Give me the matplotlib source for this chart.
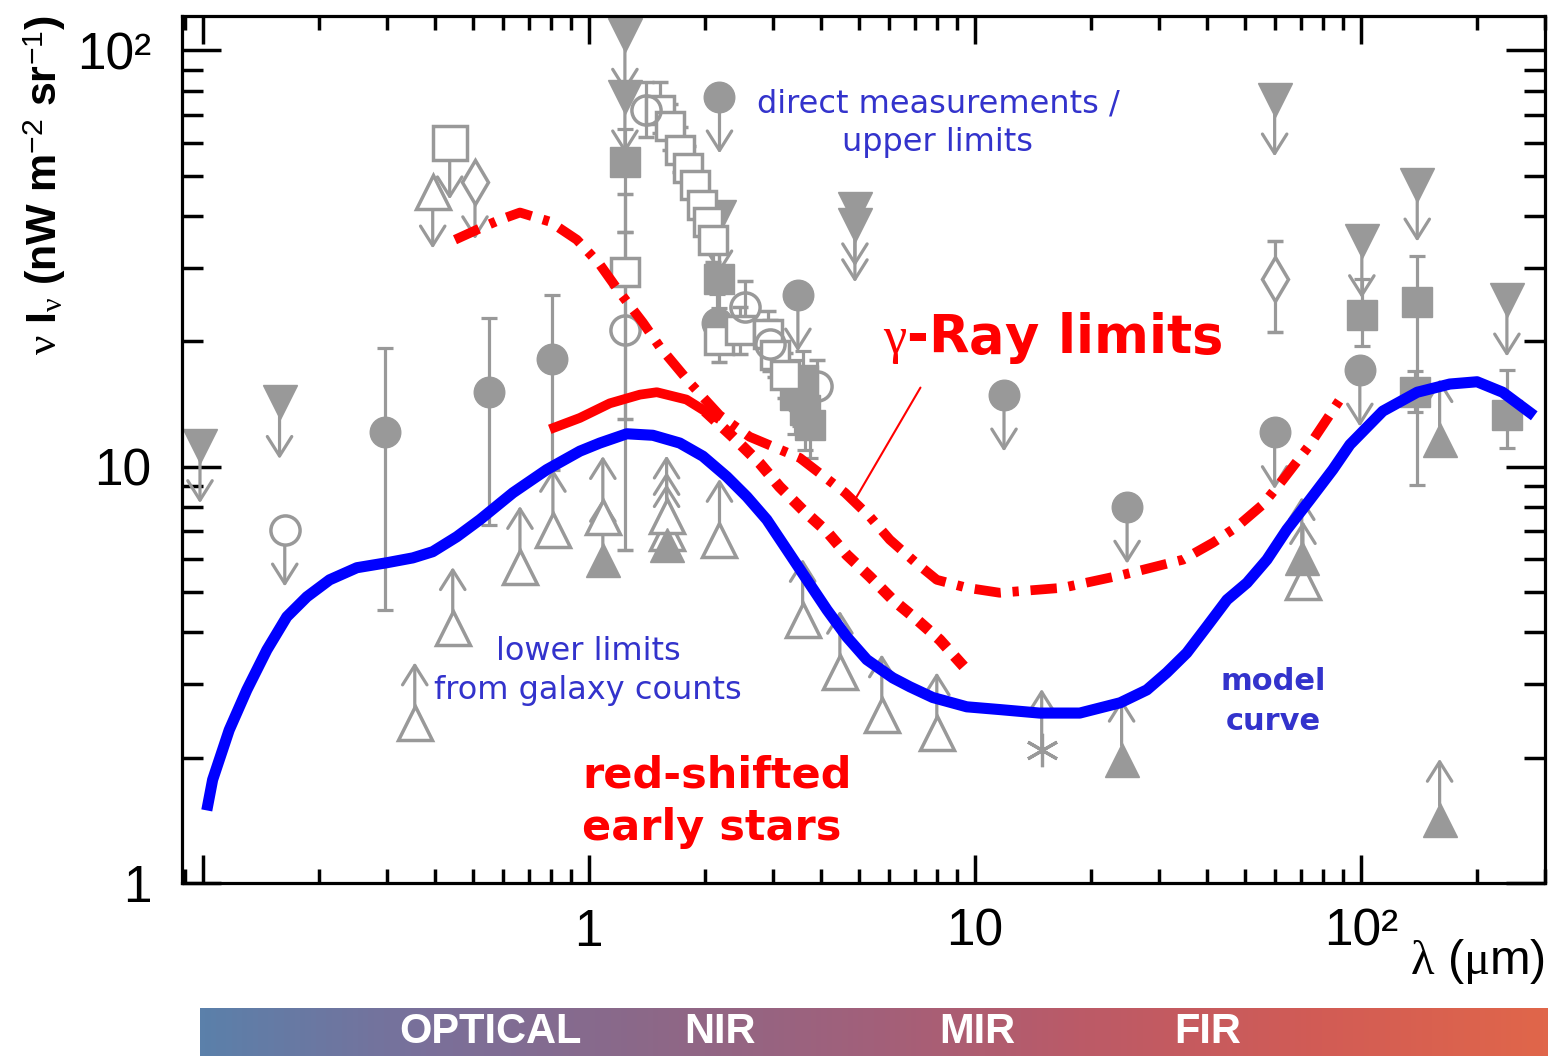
import numpy as np
import matplotlib.pyplot as plt
from matplotlib.colors import LinearSegmentedColormap

plt.rcParams['lines.scale_dashes'] = False
plt.rcParams['mathtext.fontset'] = 'custom'
plt.rcParams['mathtext.it'] = 'Liberation Serif'
plt.rcParams['mathtext.rm'] = 'Liberation Sans'
plt.rcParams['mathtext.default'] = 'it'

# ---- curves ----
model_lam = [0.103, 0.106, 0.117, 0.130, 0.1465, 0.165, 0.186, 0.213, 0.2506, 0.2997,
             0.350, 0.394, 0.455, 0.522, 0.636, 0.778, 0.948, 1.068, 1.254, 1.465,
             1.72, 1.974, 2.278, 2.567, 2.891, 3.258, 3.672, 4.14, 4.66, 5.25,
             6.13, 6.79, 7.78, 9.53, 11.6, 14.7, 18.7, 23.8, 27.9, 31.4,
             35.4, 39.9, 45.0, 50.7, 57.1, 64.3, 73.8, 84.6, 93.7, 114,
             140, 170, 200, 233, 274]
model_val = [1.54, 1.77, 2.33, 2.91, 3.63, 4.36, 4.87, 5.35, 5.72, 5.88,
             6.04, 6.25, 6.79, 7.46, 8.66, 9.84, 10.9, 11.4, 12.0, 11.9,
             11.4, 10.6, 9.46, 8.47, 7.46, 6.32, 5.35, 4.53, 3.90, 3.44,
             3.11, 2.96, 2.79, 2.65, 2.61, 2.56, 2.56, 2.71, 2.91, 3.20,
             3.57, 4.13, 4.79, 5.26, 5.98, 7.06, 8.33, 9.84, 11.3, 13.6,
             15.1, 15.8, 16.0, 15.1, 13.5]

stars_lam = [0.792, 0.948, 1.133, 1.356, 1.50, 1.79, 2.00, 2.18]
stars_val = [12.3, 13.1, 14.2, 14.9, 15.1, 14.5, 13.6, 13.0]

stars_dash_lam = [2.00, 2.36, 2.77, 3.12, 3.58, 4.14, 4.66, 5.35, 6.13, 7.08, 8.11, 9.42]
stars_dash_val = [13.6, 11.8, 10.2, 8.95, 7.88, 6.98, 6.14, 5.44, 4.79, 4.29, 3.84, 3.29]

gamma_lam = [0.450, 0.513, 0.588, 0.663, 0.792, 0.931, 1.068, 1.203, 1.380, 1.527,
             1.827, 2.18, 2.61, 3.52, 4.61, 5.35, 6.02, 6.99, 7.97, 9.53,
             11.6, 16.9, 24.2, 34.6, 41.4, 47.7, 55.7, 62.8, 73.8, 88.3]
gamma_val = [35.1, 37.1, 39.2, 40.8, 38.8, 35.1, 30.6, 26.2, 22.2, 19.4,
             15.9, 13.3, 11.8, 10.5, 8.66, 7.58, 6.68, 5.91, 5.35, 5.12,
             4.98, 5.12, 5.50, 5.98, 6.57, 7.17, 8.11, 9.30, 11.3, 14.5]

# ---- measurements with error bars ----
fcirc_lam = [0.296, 0.551, 0.802, 2.15, 3.52]
fcirc_val = [12.1, 15.1, 18.1, 22.2, 14.5]
fcirc_lo = [4.53, 7.25, 9.84, 19.0, 12.5]
fcirc_hi = [19.3, 22.8, 25.8, 26.0, 16.5]

fsq_lam = [1.24, 2.18, 3.42, 3.58, 3.63, 3.74, 100.6, 140, 138, 239]
fsq_val = [54.1, 28.2, 14.9, 16.2, 13.7, 12.6, 23.2, 24.9, 15.1, 13.3]
fsq_lo = [36.7, 24.0, 12.0, 13.5, 11.0, 10.5, 19.5, 9.05, 13.5, 11.1]
fsq_hi = [64.6, 33.0, 18.0, 19.0, 16.5, 15.0, 28.2, 32.0, 17.0, 17.1]

osq_lam = [1.24, 1.527, 1.62, 1.72, 1.81, 1.88, 1.96, 2.03, 2.10, 2.18, 2.46, 2.91, 3.03, 3.22]
osq_val = [29.3, 72.1, 65.7, 57.8, 52.3, 47.6, 42.6, 38.8, 35.1, 20.2, 21.3, 20.8, 18.6, 16.6]
osq_lo = [13.0, 63.5, 57.8, 51.0, 46.0, 42.0, 37.5, 34.0, 31.0, 17.8, 18.7, 18.3, 16.4, 14.6]
osq_hi = [45.1, 84.0, 74.5, 65.5, 59.0, 54.0, 48.0, 44.0, 39.8, 23.0, 24.2, 23.6, 21.1, 18.8]

ocirc_lam = [1.24, 1.41, 2.54, 2.94, 3.90]
ocirc_val = [21.3, 72.1, 24.2, 19.7, 15.6]
ocirc_lo = [6.32, 62.0, 21.0, 17.0, 13.5]
ocirc_hi = [36.7, 84.0, 28.0, 22.5, 18.0]

odiam_lam = [59.8]
odiam_val = [28.2]
odiam_lo = [21.1]
odiam_hi = [34.8]

# ---- upper limits ----
ul_tri_lam = [0.0983, 0.158, 1.24, 1.24, 2.18, 4.89, 4.89, 59.8, 100.6, 140, 239]
ul_tri_val = [11.2, 14.3, 109, 77.5, 39.9, 41.5, 38.0, 76.2, 34.8, 47.6, 25.2]
ul_circ_lam = [2.18, 3.48, 11.9, 24.8, 59.8, 99.4]
ul_circ_val = [77.5, 25.9, 14.9, 8.01, 12.1, 17.1]
ul_ocirc_lam, ul_ocirc_val = [0.163], [7.06]
ul_osq_lam, ul_osq_val = [0.436], [60.1]
ul_odiam_lam, ul_odiam_val = [0.507], [48.2]
ul_otri_lam, ul_otri_val = [0.394], [45.8]

# ---- lower limits ----
ll_otri_lam = [0.354, 0.444, 0.663, 0.807, 1.087, 1.59, 1.59, 2.18, 3.58, 4.47, 5.74, 7.97, 70.8]
ll_otri_val = [2.42, 4.10, 5.75, 7.06, 7.58, 6.94, 7.60, 6.68, 4.29, 3.22, 2.53, 2.29, 5.29]
ll_ftri_lam = [1.087, 1.59, 24.0, 70.3, 160, 160]
ll_ftri_val = [5.98, 6.49, 1.98, 6.04, 11.6, 1.42]
ll_star_lam, ll_star_val = [14.9], [2.09]

W, H = 1551, 1056
GRAY = '#999999'
BLUE_TXT = '#3333cc'

def fx(px):
    return px / W

def fy(py):
    return 1 - py / H

fig = plt.figure(figsize=(W / 100, H / 100), dpi=100)
ax = fig.add_axes([fx(182), fy(883), (1545 - 182) / W, (883 - 16) / H])
ax.set_xscale('log')
ax.set_yscale('log')
ax.set_xlim(0.0883, 300)
ax.set_ylim(1, 121)

# error bar points
eb = dict(color=GRAY, ecolor=GRAY, elinewidth=2.3, capsize=6, capthick=2.3, ls='none', zorder=2)
def errs(v, lo, hi):
    v = np.array(v); return [v - np.array(lo), np.array(hi) - v]

ax.errorbar(fcirc_lam, fcirc_val, yerr=errs(fcirc_val, fcirc_lo, fcirc_hi), fmt='o', ms=22, **eb)
ax.errorbar(fsq_lam, fsq_val, yerr=errs(fsq_val, fsq_lo, fsq_hi), fmt='s', ms=21, **eb)
ax.errorbar(osq_lam, osq_val, yerr=errs(osq_val, osq_lo, osq_hi), fmt='s', ms=20,
            mfc='white', mec=GRAY, mew=2.5, **eb)
ax.errorbar(ocirc_lam, ocirc_val, yerr=errs(ocirc_val, ocirc_lo, ocirc_hi), fmt='o', ms=21,
            mfc='none', mec=GRAY, mew=2.5, **eb)
ax.errorbar(odiam_lam, odiam_val, yerr=errs(odiam_val, odiam_lo, odiam_hi), fmt='d', ms=22,
            mfc='white', mec=GRAY, mew=2.5, **eb)

arrow_kw = dict(arrowstyle='->,head_length=0.35,head_width=0.22', color=GRAY, lw=2.3,
                mutation_scale=40, shrinkA=0, shrinkB=0)

def down_arrows(lams, vals, start=1.0):
    for l, v in zip(lams, vals):
        ax.annotate('', xy=(l, v * 0.73), xytext=(l, v * start), arrowprops=arrow_kw, zorder=2)

def up_arrows(lams, vals, start=1.08):
    for l, v in zip(lams, vals):
        ax.annotate('', xy=(l, v * 1.40), xytext=(l, v * start), arrowprops=arrow_kw, zorder=2)

# upper limits
down_arrows(ul_tri_lam, ul_tri_val)
down_arrows(ul_circ_lam, ul_circ_val)
down_arrows(ul_ocirc_lam, ul_ocirc_val, 0.92)
down_arrows(ul_osq_lam, ul_osq_val, 0.92)
down_arrows(ul_odiam_lam, ul_odiam_val, 0.93)
down_arrows(ul_otri_lam, ul_otri_val, 0.92)
ax.plot(ul_tri_lam, ul_tri_val, 'v', ms=24, color=GRAY, ls='none', zorder=2)
ax.plot(ul_circ_lam, ul_circ_val, 'o', ms=22, color=GRAY, ls='none', zorder=2)
ax.plot(ul_ocirc_lam, ul_ocirc_val, 'o', ms=21, mfc='white', mec=GRAY, mew=2.5, ls='none', zorder=2)
ax.plot(ul_osq_lam, ul_osq_val, 's', ms=24, mfc='white', mec=GRAY, mew=2.5, ls='none', zorder=2)
ax.plot(ul_odiam_lam, ul_odiam_val, 'd', ms=22, mfc='white', mec=GRAY, mew=2.5, ls='none', zorder=2)
ax.plot(ul_otri_lam, ul_otri_val, '^', ms=24, mfc='white', mec=GRAY, mew=2.5, ls='none', zorder=2)

# lower limits
up_arrows(ll_otri_lam, ll_otri_val)
up_arrows(ll_ftri_lam, ll_ftri_val)
up_arrows(ll_star_lam, ll_star_val, 1.0)
ax.plot(ll_otri_lam, ll_otri_val, '^', ms=25, mfc='white', mec=GRAY, mew=2.5, ls='none', zorder=2)
ax.plot(ll_ftri_lam, ll_ftri_val, '^', ms=24, color=GRAY, ls='none', zorder=2)
ax.plot(ll_star_lam, ll_star_val, marker=(6, 2, 0), ms=24, mec=GRAY, mew=2.3, ls='none', zorder=2)

# red curves
ax.plot(gamma_lam, gamma_val, color='red', lw=7, dashes=(19, 8.5, 4.5, 8.5), zorder=3)
ax.plot(stars_lam, stars_val, color='red', lw=7, solid_capstyle='butt',
        solid_joinstyle='round', zorder=3)
ax.plot(stars_dash_lam, stars_dash_val, color='red', lw=8, dashes=(10, 8), zorder=3)
# blue model curve
ax.plot(model_lam, model_val, color='#0000ff', lw=8, solid_joinstyle='round', zorder=4)

# axes styling
for s in ax.spines.values():
    s.set_linewidth(2.3)
ax.set_xticks([0.1, 1, 10, 100])
ax.set_xticklabels(['', '1', '10', '10²'])
ax.set_yticks([1, 10, 100])
ax.set_yticklabels(['1', '10', '10²'])
ax.tick_params(which='both', direction='in', top=True, right=True, width=2.5, colors='black')
ax.tick_params(axis='x', which='major', length=20, pad=18)
ax.tick_params(axis='x', which='minor', length=10)
ax.tick_params(axis='y', which='major', length=28, pad=22)
ax.tick_params(axis='y', which='minor', length=15)
for lab in ax.get_xticklabels() + ax.get_yticklabels():
    lab.set_family('Liberation Sans')
    lab.set_fontsize(37)

# texts
fig.text(fx(45), fy(185), r'$\nu$ I$_{\nu}$ (nW m$^{-2}$ sr$^{-1}$)', rotation=90,
         ha='center', va='center', fontsize=31, fontweight='bold', family='Liberation Sans')
fig.text(fx(1477), fy(962), r'$\lambda$ ($\mu$m)', ha='center', va='center', fontsize=35,
         family='Liberation Sans')

fig.text(fx(938), fy(104), 'direct measurements /', ha='center', va='center', fontsize=23, color=BLUE_TXT)
fig.text(fx(938), fy(143), 'upper limits', ha='center', va='center', fontsize=23, color=BLUE_TXT)
fig.text(fx(588), fy(652), 'lower limits', ha='center', va='center', fontsize=23, color=BLUE_TXT)
fig.text(fx(588), fy(690), 'from galaxy counts', ha='center', va='center', fontsize=23, color=BLUE_TXT)
fig.text(fx(1273), fy(682), 'model', ha='center', va='center', fontsize=22, fontweight='bold', color=BLUE_TXT)
fig.text(fx(1273), fy(721), 'curve', ha='center', va='center', fontsize=22, fontweight='bold', color=BLUE_TXT)
fig.text(fx(883), fy(338), r'$\gamma$-Ray limits', ha='left', va='center', fontsize=38,
         fontweight='bold', color='red')
fig.text(fx(582), fy(775), 'red-shifted', ha='left', va='center', fontsize=31, fontweight='bold', color='red')
fig.text(fx(582), fy(828), 'early stars', ha='left', va='center', fontsize=31, fontweight='bold', color='red')
ax.annotate('', xy=(4.89, 8.33), xytext=(7.29, 15.7),
            arrowprops=dict(arrowstyle='-', color='red', lw=1.5), zorder=3)

# bottom wavelength band
band = fig.add_axes([fx(200), 0, (1548 - 200) / W, 48 / H])
cmap = LinearSegmentedColormap.from_list('band', ['#5b80aa', '#7a709a', '#8c6888', '#a2607a',
                                                  '#bd5a66', '#d25c55', '#e0664a'])
band.imshow(np.linspace(0, 1, 256)[None, :], cmap=cmap, aspect='auto', extent=[0, 1, 0, 1])
band.set_axis_off()
for name, xp in [('OPTICAL', 490), ('NIR', 720), ('MIR', 977), ('FIR', 1208)]:
    fig.text(fx(xp), fy(1032), name, ha='center', va='center', fontsize=30, fontweight='bold',
             color='white', family='Liberation Sans')

fig.savefig('out.png', dpi=100, facecolor='white')
